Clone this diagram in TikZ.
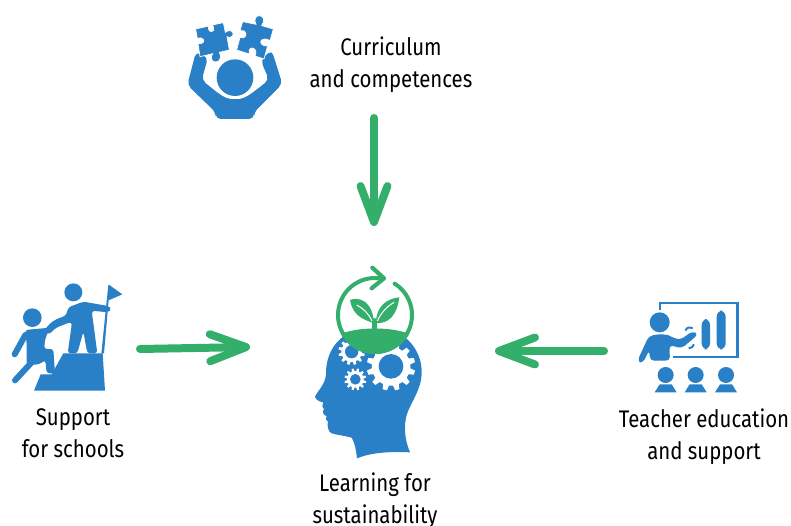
\documentclass[tikz,border=0pt]{standalone}
\usepackage{fontspec}
\setmainfont{Fira Sans}[FakeStretch=0.85]
\usetikzlibrary{arrows.meta}
\definecolor{iconblue}{HTML}{2A80C6}
\definecolor{leafgreen}{HTML}{33AE6B}
\tikzset{
  label text/.style={font=\fontsize{24}{32}\selectfont,align=center,inner sep=0pt,anchor=base,text=black},
  flow/.style={draw=leafgreen,line width=8pt,line cap=round,line join=round,-{Straight Barb[length=36pt,width=27pt,round]}},
  zoomA/.style={shift={(#1)},x=.33333pt,y=-.33333pt},
  piece/.style={fill=iconblue,draw=white,line width=.7pt},
}
\newcommand{\gearshape}[5]{% cx cy rout rroot n
  \begin{scope}[shift={(#1,#2)}]
  \pgfmathsetmacro{\gs}{360/#5}
  \fill[white,line join=round] (0:#4)
   \foreach \k in {1,...,#5}{
     \pgfextra{\pgfmathsetmacro{\ga}{\k*\gs-\gs/2}}
     -- ({\ga-.30*\gs}:#4) -- ({\ga-.17*\gs}:#3) -- ({\ga+.17*\gs}:#3) -- ({\ga+.30*\gs}:#4)
   } -- cycle;
  \end{scope}}
\begin{document}
\begin{tikzpicture}[x=1pt,y=-1pt]
\useasboundingbox (0,0) rectangle (791,526);
\fill[white] (0,0) rectangle (791,526);

% ---------- Curriculum icon
\begin{scope}[zoomA={170pt,0pt}]
  \fill[iconblue] (195,233) circle (55);
  \fill[iconblue,rounded corners=5pt] (137,357) -- (137,337) -- (52,255) -- (78,155) -- (114,172) -- (95,240) -- (150,284) .. controls (180,300) and (210,300) .. (240,284) -- (297,240) -- (272,180) -- (305,150) -- (337,252) -- (252,337) -- (252,357) -- cycle;
  % left puzzle
  \path[piece] (77,87) -- (117,78) .. controls (110,90) and (124,101) .. (131,91) .. controls (134,84) and (128,78) .. (127,75) -- (160,68) -- (166,97) .. controls (178,85) and (195,95) .. (188,108) .. controls (183,116) and (175,112) .. (171,110) -- (178,150) -- (148,157) .. controls (155,168) and (152,185) .. (138,186) .. controls (122,186) and (122,170) .. (128,161) -- (90,170) -- (84,130) .. controls (96,134) and (105,126) .. (100,118) .. controls (96,112) and (88,113) .. (82,115) -- cycle;
  % right puzzle
  \path[piece] (218,65) -- (258,73) .. controls (250,58) and (258,47) .. (268,47) .. controls (282,48) and (285,62) .. (275,77) -- (310,87) -- (300,122) .. controls (290,114) and (274,116) .. (272,125) .. controls (272,135) and (285,140) .. (293,137) -- (282,177) -- (255,168) .. controls (261,157) and (257,145) .. (247,144) .. controls (237,144) and (235,155) .. (238,162) -- (200,150) -- (210,112) .. controls (219,116) and (229,111) .. (228,102) .. controls (226,92) and (217,90) .. (210,92) -- cycle;
\end{scope}

% ---------- Central icon
\begin{scope}[zoomA={300pt,-255pt}]
  \fill[iconblue] (171,610) .. controls (168,585) and (165,565) .. (155,548) .. controls (135,542) and (110,540) .. (95,535) .. controls (85,532) and (80,510) .. (84,500) .. controls (76,495) and (76,490) .. (80,484) .. controls (68,478) and (66,470) .. (72,462) .. controls (64,455) and (68,448) .. (70,442) .. controls (58,440) and (48,435) .. (45,425) .. controls (55,405) and (78,385) .. (78,355) .. controls (78,300) and (105,245) .. (170,225) -- (280,225) .. controls (335,250) and (365,300) .. (365,350) .. controls (365,405) and (335,435) .. (320,480) .. controls (312,510) and (312,550) .. (330,592) .. controls (280,590) and (220,590) .. (171,610) -- cycle;
  \gearshape{155}{290}{40}{31}{12}
  \fill[iconblue] (155,290) circle (20);
  \gearshape{166}{373}{33}{25}{12}
  \fill[iconblue] (166,373) circle (16);
  \gearshape{273}{334}{73}{58}{12}
  \fill[iconblue] (273,334) circle (37);
  \begin{scope}[shift={(225,180)}]
    \fill[white] (0,0) circle (114);
    \fill[leafgreen] plot[domain=29:151,samples=40] (\x:117) .. controls (-50,35) and (50,35) .. (29:117) -- cycle;
    \draw[leafgreen,line width=4pt,line cap=round] plot[domain=-58:280,samples=90] (\x:111);
  \end{scope}
  \draw[leafgreen,line width=4.2pt,line cap=round,line join=round] (217,38) -- (252,70) -- (215,100);
  % plant
  \fill[leafgreen] (150,135) .. controls (175,125) and (218,135) .. (222,205) .. controls (200,195) and (160,190) .. (150,135) -- cycle;
  \fill[leafgreen] (298,127) .. controls (265,130) and (228,150) .. (228,205) .. controls (265,205) and (290,185) .. (298,127) -- cycle;
  \fill[leafgreen] (217,190) -- (230,190) -- (232,228) -- (215,228) -- cycle;
  \draw[white,line width=1pt] (170,150) .. controls (190,160) and (205,175) .. (216,198);
  \draw[white,line width=1pt] (282,142) .. controls (260,155) and (242,175) .. (232,198);
\end{scope}

% ---------- Support icon
\begin{scope}[zoomA={0pt,-275pt}]
  \fill[iconblue] (102,347) -- (122,298) -- (155,298) -- (190,235) -- (308,235) -- (315,347) -- cycle;
  % flag
  \fill[iconblue] (325,30) -- (330,30) -- (312,235) -- (304,235) -- cycle;
  \fill[iconblue] (328,30) -- (367,58) -- (326,76) -- cycle;
  % guide
  \fill[iconblue] (220,52) circle (27);
  \fill[iconblue,rounded corners=3pt] (205,97) -- (250,80) -- (325,93) -- (334,102) -- (325,112) -- (275,107) -- (292,235) -- (262,235) -- (250,170) -- (232,235) -- (203,235) -- (215,150) -- (215,140) -- (168,158) -- (148,178) -- (128,172) -- (150,145) -- (170,132) -- (198,122) -- cycle;
  % climber
  \fill[iconblue] (97,128) circle (28);
  \fill[iconblue,rounded corners=3pt] (75,165) -- (150,158) -- (136,190) -- (132,222) -- (160,222) -- (165,295) -- (140,295) -- (136,255) -- (118,268) -- (80,270) -- (80,205) -- cycle;
  \draw[iconblue,line width=6pt,line cap=round] (76,180) -- (44,238);
  \draw[iconblue,line width=6pt,line cap=round] (95,262) -- (45,316);
\end{scope}

% ---------- Teacher icon
\begin{scope}[zoomA={630pt,-295pt}]
  \draw[iconblue,line width=2.4pt] (90,46) -- (90,24) -- (323,24) -- (323,186) -- (130,186);
  \fill[iconblue,rounded corners=6pt] (215,72) rectangle (240,163);
  \fill[iconblue,rounded corners=6pt] (260,47) rectangle (287,163);
  \draw[iconblue,line width=2pt] (167,107) .. controls (168,98) and (178,95) .. (188,100);
  \draw[iconblue,line width=2pt] (176,160) .. controls (183,160) and (190,155) .. (192,148);
  \fill[iconblue] (89,82) circle (30);
  \fill[iconblue,rounded corners=4pt] (56,124) -- (80,118) -- (110,118) -- (122,125) -- (150,135) -- (188,108) -- (205,118) -- (155,160) -- (118,150) -- (120,197) -- (60,197) -- (58,165) -- (38,205) -- (22,198) -- cycle;
  \foreach \c in {107,197,288}{
    \fill[iconblue] (\c,240) circle (24);
    \fill[iconblue] ({\c-33},292) -- ({\c-18},268) -- ({\c+18},268) -- ({\c+33},292) -- cycle;
  }
\end{scope}

% ---------- Labels
\node[label text] (curriculum) at (391,88) {Curriculum\\and competences};
\node[label text] (support) at (73,457) {Support\\for schools};
\node[label text] (teacher) at (704,459) {Teacher education\\and support};
\node[label text] (learning) at (375,523) {Learning for\\sustainability};

% ---------- Connectors
\coordinate (curriculumOut) at (374,118);
\coordinate (learningTop) at (374,226);
\coordinate (supportOut) at (140,349);
\coordinate (learningLeft) at (250,347);
\coordinate (teacherOut) at (604,351);
\coordinate (learningRight) at (495,351);
\draw[flow] (curriculumOut) -- (learningTop);
\draw[flow] (supportOut) -- (learningLeft);
\draw[flow] (teacherOut) -- (learningRight);
\end{tikzpicture}
\end{document}
